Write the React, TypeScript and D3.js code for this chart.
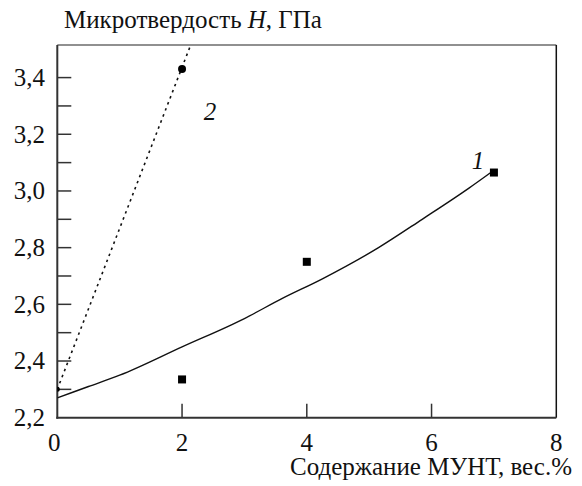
import * as d3 from 'd3';
import React from 'react';

// data
const xTicks = [0, 2, 4, 6, 8];
const yLabelTicks = [2.2, 2.4, 2.6, 2.8, 3.0, 3.2, 3.4];
const yMinorTicks = [2.3, 2.5, 2.7, 2.9, 3.1, 3.3];

// curve 1 (fit) and its measured points
const fit1X = [0, 0.5, 1, 2, 3, 3.6, 4.25, 5.15, 5.85, 6.6, 6.95];
const fit1Y = [2.27, 2.31, 2.35, 2.45, 2.55, 2.62, 2.69, 2.80, 2.90, 3.01, 3.065];
const pts1X = [2, 4, 7];
const pts1Y = [2.335, 2.75, 3.065];

// curve 2 (dotted) and its measured points
const fit2X = [0, 2.2];
const fit2Y = [2.3, 3.55];
const pts2X = [0, 2];
const pts2Y = [2.3, 3.43];

const W = 582;
const H = 486;
const FONT = "'Liberation Serif'";
const FS = '25px';

export default function App() {
  const x = d3.scaleLinear().domain([0, 8]).range([57.3, 556.3]);
  const y = d3.scaleLinear().domain([2.2, 3.515]).range([417.7, 45]);
  const x0 = x(0), x1 = x(8), yB = y(2.2), yT = y(3.515);
  const tickLen = 14;
  const txt = { fontFamily: FONT, fontSize: FS };

  const line1 = d3.line<number>()
    .x((_, i) => x(fit1X[i]))
    .y(d => y(d))
    .curve(d3.curveMonotoneX);
  const line2 = d3.line<number>()
    .x((_, i) => x(fit2X[i]))
    .y(d => y(d));
  const sq = 8;

  return (
    <svg width={W} height={H} style={{ position: 'absolute', left: 0, top: 0, background: '#fff' }}>
      <defs>
        <clipPath id="plot">
          <rect x={x0} y={yT} width={x1 - x0} height={yB - yT} />
        </clipPath>
      </defs>

      {/* frame */}
      <line x1={x0} x2={x1} y1={yT} y2={yT} stroke="#222" strokeWidth={1.2} />
      <line x1={x1} x2={x1} y1={yT} y2={yB} stroke="#111" strokeWidth={1.5} />

      {/* inward ticks */}
      {[...yLabelTicks.slice(1), ...yMinorTicks].map(d => (
        <line key={'yt' + d} x1={x0} x2={x0 + tickLen} y1={y(d)} y2={y(d)} stroke="#333" strokeWidth={1.5} />
      ))}
      {xTicks.slice(1, -1).map(d => (
        <line key={'xt' + d} x1={x(d)} x2={x(d)} y1={yB} y2={yB - tickLen} stroke="#333" strokeWidth={1.5} />
      ))}

      {/* axes */}
      <line x1={x0} x2={x0} y1={yT} y2={yB + 1} stroke="#333" strokeWidth={2} />
      <line x1={x0 - 1} x2={x1} y1={yB} y2={yB} stroke="#333" strokeWidth={2} />

      {/* tick labels */}
      {yLabelTicks.map(d => (
        <text key={'yl' + d} x={45} y={y(d)} dy="0.33em" textAnchor="end" fill="#111" style={txt}>
          {d3.format('.1f')(d).replace('.', ',')}
        </text>
      ))}
      {xTicks.map(d => (
        <text key={'xl' + d} x={x(d) - (d === 0 ? 3 : 0)} y={451} textAnchor="middle" fill="#111" style={txt}>
          {String(d)}
        </text>
      ))}

      <g clipPath="url(#plot)">
        <path d={line1(fit1Y) ?? ''} fill="none" stroke="#111" strokeWidth={1.4} />
        <path d={line2(fit2Y) ?? ''} fill="none" stroke="#111" strokeWidth={1.6} strokeDasharray="2.5,4" />
        {pts2Y.map((d, i) => (
          <circle key={'p2' + i} cx={x(pts2X[i])} cy={y(d)} r={i === 0 ? 2.5 : 4} fill="#000" />
        ))}
      </g>
      {pts1Y.map((d, i) => (
        <rect key={'p1' + i} x={x(pts1X[i]) - sq / 2} y={y(d) - sq / 2} width={sq} height={sq} fill="#000" />
      ))}

      {/* curve labels */}
      <text x={478} y={169} textAnchor="middle" fill="#111" style={{ ...txt, fontStyle: 'italic' }}>1</text>
      <text x={210} y={120} textAnchor="middle" fill="#111" style={{ ...txt, fontStyle: 'italic' }}>2</text>

      {/* axis titles */}
      <text x={64} y={28} fill="#111" style={txt}>
        Микротвердость <tspan style={{ fontStyle: 'italic' }}>H</tspan>, ГПа
      </text>
      <text x={572} y={475} textAnchor="end" fill="#111" style={txt}>
        Содержание МУНТ, вес.%
      </text>
    </svg>
  );
}
